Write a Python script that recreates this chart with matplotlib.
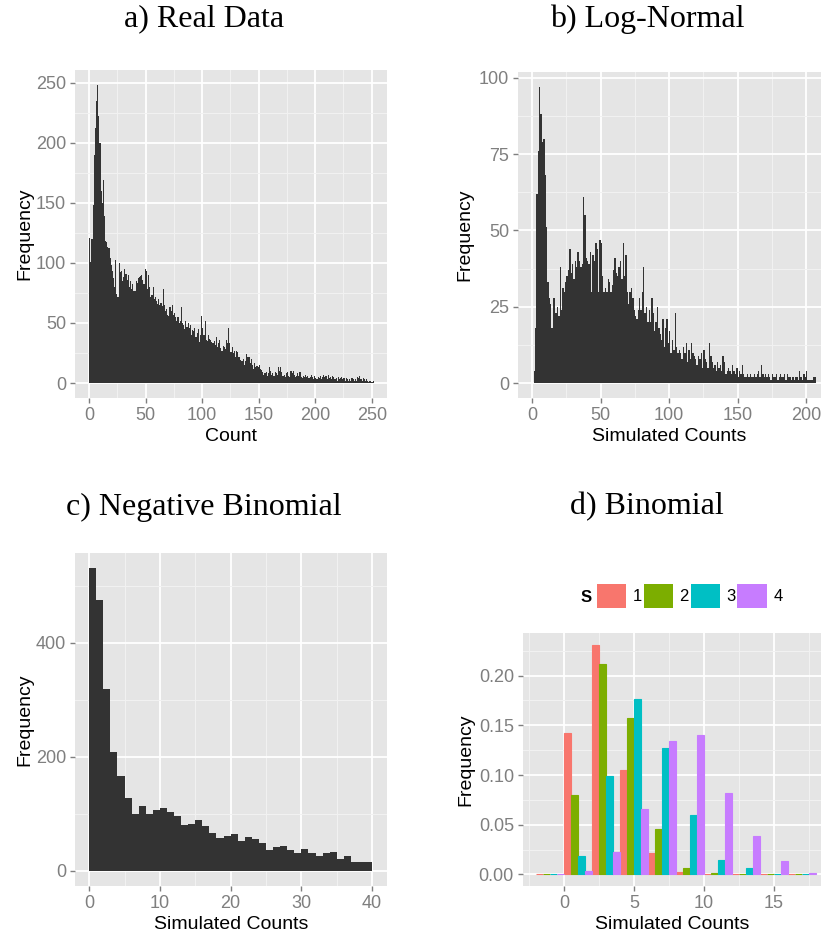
import matplotlib
matplotlib.use("Agg")
import matplotlib.pyplot as plt
import numpy as np
from matplotlib.patches import Patch

plt.rcParams["font.family"] = ["Liberation Sans", "DejaVu Sans"]

# a) real data, counts per unit bin starting at 0
real_counts = [
    121, 101, 120, 148, 190, 212, 235, 248, 222, 200,
    160, 150, 169, 139, 118, 117, 113, 112, 104, 98,
    93, 87, 80, 102, 74, 72, 100, 92, 93, 85,
    88, 95, 91, 86, 90, 80, 85, 78, 82, 77,
    77, 85, 83, 87, 88, 89, 90, 86, 82, 95,
    93, 78, 90, 80, 72, 73, 80, 70, 72, 68,
    66, 70, 65, 67, 64, 78, 65, 60, 62, 57,
    56, 63, 60, 65, 57, 58, 55, 52, 55, 50,
    52, 63, 50, 48, 45, 52, 47, 50, 46, 48,
    40, 44, 43, 46, 38, 42, 45, 34, 40, 56,
    46, 40, 52, 36, 35, 40, 37, 36, 34, 33,
    35, 32, 38, 30, 33, 36, 29, 27, 31, 30,
    28, 36, 33, 46, 33, 26, 30, 25, 27, 22,
    27, 26, 22, 19, 18, 18, 20, 15, 18, 24,
    22, 22, 17, 20, 15, 12, 17, 13, 14, 13,
    15, 12, 11, 9, 7, 8, 9, 6, 8, 13,
    10, 7, 8, 6, 9, 8, 7, 13, 10, 13,
    9, 6, 7, 5, 8, 9, 6, 5, 10, 8,
    10, 7, 5, 6, 8, 6, 9, 5, 4, 6,
    5, 7, 5, 6, 4, 5, 7, 5, 3, 6,
    4, 3, 5, 4, 6, 3, 5, 7, 5, 6,
    3, 7, 4, 5, 3, 6, 5, 3, 4, 2,
    5, 3, 4, 5, 3, 4, 2, 4, 3, 2,
    3, 2, 4, 3, 2, 3, 2, 5, 4, 6,
    3, 2, 4, 3, 2, 3, 2, 1, 2, 1,
    1, 2,
]

# b) log-normal simulated counts
lognormal_counts = [
    0, 4, 18, 62, 76, 97, 88, 79, 80, 68,
    51, 33, 28, 26, 18, 28, 28, 23, 25, 22,
    38, 24, 31, 30, 33, 35, 37, 44, 36, 39,
    34, 40, 38, 43, 40, 38, 39, 61, 55, 41,
    40, 39, 43, 30, 42, 40, 46, 44, 30, 47,
    46, 35, 30, 31, 30, 34, 33, 30, 32, 37,
    41, 36, 35, 38, 40, 34, 46, 35, 42, 30,
    26, 30, 31, 28, 24, 22, 21, 24, 28, 24,
    30, 38, 23, 25, 20, 24, 20, 28, 23, 17,
    20, 25, 18, 16, 14, 21, 12, 18, 21, 13,
    17, 10, 14, 11, 23, 12, 10, 11, 10, 8,
    12, 10, 13, 7, 11, 8, 13, 10, 9, 8,
    6, 9, 8, 10, 5, 11, 8, 7, 5, 13,
    9, 7, 5, 6, 4, 7, 5, 6, 4, 9,
    7, 3, 4, 5, 4, 3, 6, 4, 3, 5,
    2, 4, 3, 6, 3, 2, 2, 3, 2, 3,
    2, 2, 3, 2, 3, 4, 2, 6, 3, 2,
    3, 2, 3, 2, 1, 3, 2, 2, 3, 1,
    2, 3, 2, 2, 3, 1, 3, 2, 2, 1,
    2, 1, 2, 2, 1, 4, 2, 1, 3, 2,
    4, 1, 1, 1, 1, 2, 2,
]

# c) negative binomial simulated counts
negbin_counts = [
    531, 475, 319, 209, 167, 127, 99, 113, 100, 106,
    110, 103, 96, 80, 83, 89, 78, 67, 58, 62,
    64, 52, 60, 56, 49, 37, 42, 44, 36, 32,
    38, 31, 26, 31, 33, 21, 26, 16, 15, 15,
]

# d) binomial, relative frequency per bin of width 2, for each S
binom_centers = [-1, 1, 3, 5, 7, 9, 11, 13, 15, 17]
binom_freq = {
    "1": [0, 0.142, 0.231, 0.105, 0.022, 0.002, 0, 0, 0, 0],
    "2": [0, 0.080, 0.212, 0.157, 0.046, 0.006, 0.001, 0, 0, 0],
    "3": [0, 0.019, 0.099, 0.176, 0.127, 0.060, 0.015, 0.006, 0, 0],
    "4": [0, 0.003, 0.023, 0.066, 0.134, 0.140, 0.082, 0.039, 0.014, 0.001],
}
s_colors = ["#F8766D", "#7CAE00", "#00BFC4", "#C77CFF"]

W, H = 821, 936
fig = plt.figure(figsize=(W / 100, H / 100), dpi=100)


def px_axes(left, top, right, bottom):
    return fig.add_axes([left / W, 1 - bottom / H, (right - left) / W, (bottom - top) / H])


def gg_style(ax, xmajor, xminor, ymajor, yminor, ylabels=None):
    ax.set_facecolor("#E5E5E5")
    for s in ax.spines.values():
        s.set_visible(False)
    ax.set_xticks(xmajor)
    ax.set_xticks(xminor, minor=True)
    ax.set_yticks(ymajor)
    ax.set_yticks(yminor, minor=True)
    if ylabels is not None:
        ax.set_yticklabels(ylabels)
    ax.grid(which="major", color="white", linewidth=1.3)
    ax.grid(which="minor", color="#F2F2F2", linewidth=0.7)
    ax.set_axisbelow(True)
    ax.tick_params(which="major", length=3.5, width=1, color="#7F7F7F",
                   labelcolor="#7F7F7F", labelsize=13, pad=3)
    ax.tick_params(which="minor", length=0)


bar_col = "#333333"

# panel a
ax = px_axes(75, 70, 387, 398)
ax.stairs(real_counts, np.arange(len(real_counts) + 1), fill=True, color=bar_col)
ax.set_xlim(-12.6, 263.5)
ax.set_ylim(-12.4, 260.4)
gg_style(ax, [0, 50, 100, 150, 200, 250], [25, 75, 125, 175, 225],
         [0, 50, 100, 150, 200, 250], [25, 75, 125, 175, 225])
ax.set_xlabel("Count", fontsize=14, labelpad=3)
ax.set_ylabel("Frequency", fontsize=14, labelpad=2)

# panel b
ax = px_axes(518, 72, 821, 398)
ax.stairs(lognormal_counts, np.arange(len(lognormal_counts) + 1), fill=True, color=bar_col)
ax.set_xlim(-10.4, 211)
ax.set_ylim(-4.85, 101.85)
gg_style(ax, [0, 50, 100, 150, 200], [25, 75, 125, 175],
         [0, 25, 50, 75, 100], [12.5, 37.5, 62.5, 87.5])
ax.set_xlabel("Simulated Counts", fontsize=14, labelpad=3)
ax.set_ylabel("Frequency", fontsize=14, labelpad=4)

# panel c
ax = px_axes(75, 553, 387, 886)
ax.stairs(negbin_counts, np.arange(len(negbin_counts) + 1), fill=True, color=bar_col)
ax.set_xlim(-2, 42.1)
ax.set_ylim(-26.5, 557.5)
gg_style(ax, [0, 10, 20, 30, 40], [5, 15, 25, 35], [0, 200, 400], [100, 300, 500])
ax.set_xlabel("Simulated Counts", fontsize=14, labelpad=3)
ax.set_ylabel("Frequency", fontsize=14, labelpad=2)

# panel d
ax = px_axes(523, 633, 821, 886)
offsets = [-0.75, -0.25, 0.25, 0.75]
handles = []
for (name, freq), col, off in zip(binom_freq.items(), s_colors, offsets):
    ax.bar(np.array(binom_centers) + off, freq, width=0.5, color=col,
           edgecolor=col, linewidth=0.8)
    handles.append(Patch(facecolor=col, edgecolor="none", label=name))
ax.set_xlim(-2.93, 18.35)
ax.set_ylim(-0.0116, 0.2428)
gg_style(ax, [0, 5, 10, 15], [-2.5, 2.5, 7.5, 12.5, 17.5],
         [0, 0.05, 0.10, 0.15, 0.20], [0.025, 0.075, 0.125, 0.175, 0.225],
         ylabels=["0.00", "0.05", "0.10", "0.15", "0.20"])
ax.set_xlabel("Simulated Counts", fontsize=14, labelpad=3)
ax.set_ylabel("Frequency", fontsize=14, labelpad=3)
leg = fig.legend(handles=handles, ncol=4, loc="center left",
                 bbox_to_anchor=(597 / W, 1 - 596 / H), frameon=False,
                 fontsize=12, handlelength=1.75, handleheight=1.75,
                 handletextpad=0.4, columnspacing=0.1, borderpad=0, borderaxespad=0)
fig.text(586 / W, 1 - 597 / H, "S", fontsize=12, fontweight="bold",
         ha="center", va="center")

# titles
title_font = dict(family=["Liberation Serif", "DejaVu Serif"], fontsize=23,
                  ha="center", va="center")
fig.text(204 / W, 1 - 19 / H, "a) Real Data", **title_font)
fig.text(647 / W, 1 - 19 / H, "b) Log-Normal", **title_font)
fig.text(204 / W, 1 - 507 / H, "c) Negative Binomial", **title_font)
fig.text(647 / W, 1 - 507 / H, "d) Binomial", **title_font)

fig.savefig("out.png", dpi=100)
plt.close(fig)
